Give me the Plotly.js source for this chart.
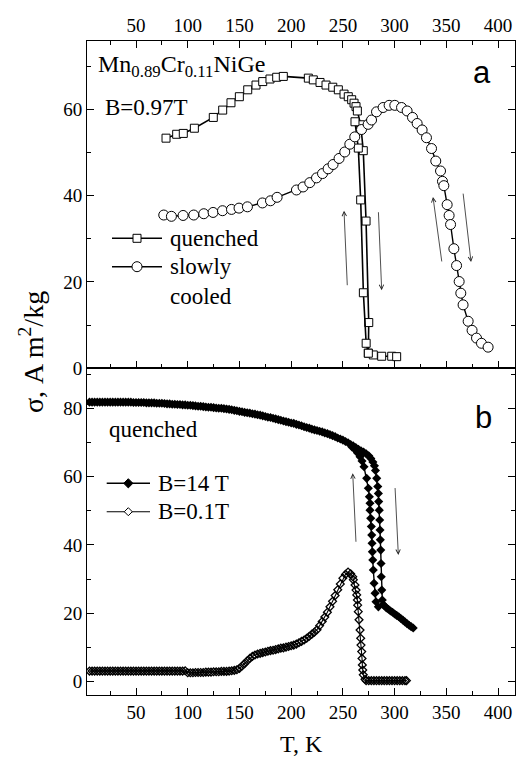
<!DOCTYPE html>
<html><head><meta charset="utf-8">
<script src="https://cdn.plot.ly/plotly-3.0.1.min.js"></script>
<style>html,body{margin:0;padding:0;background:#fff}#chart{width:516px;height:759px}</style>
</head><body><div id="chart"></div>
<script>
// ---------- Panel a: B = 0.97 T ----------
const quenchedHeatT = [79.0,89.3,95.7,106.4,124.7,133.8,141.8,149.9,158.0,166.0,172.5,179.5,186.0,192.4,216.6,221.4,227.9,233.7,240.2,245.6,251.1,255.2,258.5,260.8,262.7,264.0,267.2,269.7,272.4,275.0,274.6,279.4,287.5,297.2,302.0];
const quenchedHeatS = [53.3,54.2,54.4,55.6,58.1,59.8,61.5,62.9,64.5,65.6,66.4,67.0,67.4,67.6,67.2,66.8,66.2,65.6,65.1,64.5,63.5,62.9,62.2,61.4,60.6,59.6,56.4,50.4,34.1,10.6,3.5,3.1,2.8,2.8,2.7];
const quenchedCoolT = [274.6,272.5,269.8,267.2,264.9,261.7];
const quenchedCoolS = [3.5,5.8,17.5,39.0,51.0,57.1];

const slowT = [76.8,84.2,95.5,105.8,115.5,124.5,133.6,142.3,149.6,157.7,172.2,180.0,186.4,205.1,211.5,218.0,224.5,230.3,235.7,240.5,246.3,251.8,256.7,261.5,268.0,274.4,277.7,282.5,288.9,294.7,300.2,306.7,312.1,317.3,321.8,326.6,330.8,335.7,339.8,344.4,346.3,347.6,350.8,352.7,354.1,357.3,359.9,362.4,364.0,366.2,371.1,374.9,379.2,384.0,390.4];
const slowS = [35.5,35.2,35.4,35.5,35.8,36.1,36.5,36.8,37.1,37.4,38.3,38.8,39.6,41.3,42.0,43.0,44.1,45.1,46.2,47.2,48.6,50.1,51.9,53.6,55.3,56.5,57.5,59.4,60.4,60.9,60.9,60.4,59.6,58.1,56.7,55.2,53.4,50.9,48.0,45.7,43.3,42.3,37.9,35.4,33.3,27.7,23.8,20.1,17.4,14.7,10.9,8.8,7.0,5.8,4.9];

// ---------- Panel b: quenched ----------
const b14HeatT = [5,7.5,10,12.5,15,17.5,20,22.5,25,27.5,30,32.5,35,37.5,40,
 42.5,45,47.5,50,52.5,55,57.5,60,62.5,65,67.5,70,72.5,
 75,77.5,80,82.5,85,87.5,90,92.5,95,97.5,100,102.5,105,
 107.5,110,112.5,115,117.5,120,122.5,125,127.5,130,132.5,135,137.5,
 140,142.5,145,147.5,150,152.5,155,157.5,160,162.5,165,167.5,170,
 172.5,175,177.5,180,182.5,185,187.5,190,192.5,195,197.5,200,
 202.5,205,207.5,210,212.5,215,217.5,220,222.5,225,227.5,230,232.5,
 235,237.5,240,242.5,245,247.5,250,
 252.5,255,257.5,260,262.5,265,
 267.5,270,272.5,275,277,279,280.5,281.5,282.7,283.7,284.3,284.6,285.2,285.6,285.9,286.2,286.6,286.9,287.1,287.6,288.1,289.0,290,
 292,294,296,298,300,302,304,306,308,310,312,314,316,318];
const b14HeatS = [81.8,81.8,81.8,81.8,81.8,81.8,81.8,81.8,81.8,81.8,81.8,81.8,81.8,81.8,81.8,
 81.8,81.8,81.7,81.7,81.7,81.7,81.7,81.6,81.6,81.6,81.6,81.5,81.5,
 81.5,81.4,81.3,81.3,81.2,81.2,81.1,81.1,81.0,81.0,80.9,80.9,80.8,
 80.7,80.6,80.6,80.5,80.4,80.3,80.3,80.2,80.1,80.0,80.0,79.9,79.8,
 79.7,79.6,79.4,79.3,79.1,79.0,78.8,78.7,78.6,78.4,78.3,78.1,78.0,
 77.8,77.6,77.4,77.3,77.1,76.9,76.7,76.5,76.3,76.1,75.9,75.7,
 75.6,75.3,75.1,74.9,74.6,74.4,74.2,73.9,73.7,73.5,73.3,73.1,72.8,
 72.6,72.3,72.0,71.7,71.3,71.0,70.7,
 70.3,69.9,69.4,69.0,68.5,68.0,
 67.6,67.2,66.7,66.1,65.3,64.3,63.2,61.8,59.5,57.1,55.1,52.7,50.2,47.3,44.4,41.5,38.5,34.6,30.7,26.8,23.9,22.6,22.2,
 21.6,21.2,20.7,20.3,19.8,19.4,19.0,18.5,18.0,17.5,17.0,16.5,16.1,15.7];
const b14CoolT = [284.3,282.0,281.1,280.1,279.4,278.9,278.5,278.2,277.9,277.5,276.9,276.2,276.2,275.6,274.6,273.0,270.4,268.5,266.6,264.0,261.5,259.0];
const b14CoolS = [21.9,23.4,25.9,28.8,32.7,35.6,38.0,40.5,42.9,45.4,47.8,50.2,52.2,54.1,56.6,59.5,62.9,64.6,65.8,67.0,68.0,68.6];

const b01T = [5,7.5,10,12.5,15,17.5,20,22.5,25,27.5,30,32.5,35,37.5,40,42.5,45,47.5,50,52.5,55,57.5,60,62.5,65,67.5,70,72.5,75,77.5,80,82.5,85,87.5,90,92.5,95,97.5,
 100,102.5,105,107.5,110,112.5,115,117.5,120,122.5,125,127.5,130,132.5,135,137.5,140,142.5,145,147.5,
 150,152.5,155,157.5,160,162.5,165,167.5,170,172.5,
 175,177.5,180,182.5,185,187.5,190,192.5,195,197.5,
 200,202.5,205,207.5,210,212.5,215,217.5,220,222.5,
 225,227.5,230,232.5,235,237.5,240,242.5,245,247.5,
 250,252.5,255,257.5,
 259.5,260.1,261.7,262.7,263.4,264.0,264.3,264.9,265.6,266.6,267.2,267.5,268.2,268.5,268.8,269.2,269.7,271.4,
 272.5,275,277.5,280,282.5,285,287.5,290,292.5,295,297.5,300,302.5,305,307.5,310,311.5];
const b01S = [3.1,3.1,3.1,3.1,3.1,3.1,3.1,3.1,3.1,3.1,3.1,3.1,3.1,3.1,3.1,3.1,3.1,3.1,3.1,3.1,3.1,3.1,3.1,3.1,3.1,3.1,3.1,3.1,3.1,3.1,3.1,3.1,3.1,3.1,3.1,3.1,3.1,3.2,
 2.6,2.6,2.6,2.7,2.7,2.7,2.7,2.8,2.8,2.8,2.9,2.9,2.9,3.0,3.0,3.0,3.1,3.2,3.3,3.5,
 3.9,4.6,5.3,6.1,6.8,7.4,7.8,8.1,8.3,8.5,
 8.7,8.9,9.1,9.2,9.4,9.6,9.8,9.9,10.1,10.3,
 10.5,10.7,11.0,11.4,11.8,12.2,12.7,13.3,13.9,14.5,
 15.2,16.4,17.6,18.9,20.3,21.9,23.5,25.2,26.9,28.6,
 30.3,31.4,32.1,31.6,
 30.7,29.8,28.3,26.8,25.4,23.9,22.4,20.5,18.1,15.1,12.7,10.7,8.8,6.8,4.9,3.4,2.0,0.7,
 0.3,0.3,0.3,0.3,0.3,0.3,0.3,0.3,0.3,0.3,0.3,0.3,0.3,0.3,0.3,0.3,0.3];

// legend labels
const legendA = ['quenched', 'slowly', 'cooled'];
const legendB = ['B=14 T', 'B=0.1T'];

// arrows: [tailT, tailS, headT, headS]
const arrowsA = [[254.3,18.9,251.1,36.5],[284.3,36.5,287.5,18.1],[345.8,24.4,337.1,39.7],[366.1,40.8,373.9,24.6]];
const arrowsB = [[262.7,40.5,259.5,61.0],[300.4,57.1,303.6,37.1]];

const serif = 'Liberation Serif, Times New Roman, serif';
const sans = 'Liberation Sans, Arial, sans-serif';
const K = '#000';

const styleQ = {line:{color:K, width:1.6}, marker:{symbol:'square', size:8, color:'#fff', line:{color:K, width:1}}};
const styleS = {line:{color:K, width:1.4}, marker:{symbol:'circle', size:10, color:'#fff', line:{color:K, width:1}}};
const style14 = {line:{color:K, width:1.4}, marker:{symbol:'diamond', size:7, color:K}};
const style01 = {line:{color:K, width:1.1}, marker:{symbol:'diamond-open', size:6, color:K, line:{width:1.3}}};

const traces = [
  Object.assign({x: quenchedHeatT, y: quenchedHeatS, xaxis:'x2', yaxis:'y2', name:'quenched', mode:'lines+markers'}, styleQ),
  Object.assign({x: quenchedCoolT, y: quenchedCoolS, xaxis:'x2', yaxis:'y2', name:'quenched (cooling)', mode:'lines+markers'}, styleQ),
  Object.assign({x: slowT, y: slowS, xaxis:'x2', yaxis:'y2', name:'slowly cooled', mode:'lines+markers'}, styleS),
  Object.assign({x: b14HeatT, y: b14HeatS, xaxis:'x', yaxis:'y', name:'B=14 T', mode:'lines+markers'}, style14),
  Object.assign({x: b14CoolT, y: b14CoolS, xaxis:'x', yaxis:'y', name:'B=14 T (cooling)', mode:'lines+markers'}, style14),
  Object.assign({x: b01T, y: b01S, xaxis:'x', yaxis:'y', name:'B=0.1T', mode:'lines+markers'}, style01)
];

const tickFont = {family: serif, size: 19, color: K};
const xBase = {range:[2.6,416.4], tick0:0, dtick:50, ticks:'inside', ticklen:7, tickwidth:1, tickcolor:K,
  minor:{dtick:25, tick0:0, ticks:'inside', ticklen:4, tickwidth:1, tickcolor:K},
  showline:true, linecolor:K, linewidth:1, showgrid:false, zeroline:false, tickfont:tickFont};
const yBase = {tick0:0, dtick:20, ticks:'inside', ticklen:7, tickwidth:1, tickcolor:K,
  minor:{dtick:10, tick0:0, ticks:'inside', ticklen:4, tickwidth:1, tickcolor:K},
  showline:true, linecolor:K, linewidth:1, showgrid:false, zeroline:false, mirror:'ticks', tickfont:tickFont};

// plot area in pixels: x 87..515, y 41..695
const px = v => (v - 87) / 428;
const py = v => (695 - v) / 654;

const annotations = [
  {xref:'x2', yref:'y2', x:11.4, y:70.0, xanchor:'left', yanchor:'middle', showarrow:false,
   text:'Mn<sub>0.89</sub>Cr<sub>0.11</sub>NiGe', font:{family:serif, size:24, color:K}},
  {xref:'x2', yref:'y2', x:17.8, y:60.3, xanchor:'left', yanchor:'middle', showarrow:false,
   text:'B=0.97T', font:{family:serif, size:23, color:K}},
  {xref:'x2', yref:'y2', x:384.5, y:68.5, xanchor:'center', yanchor:'middle', showarrow:false,
   text:'a', font:{family:sans, size:31, color:K}},
  {xref:'x', yref:'y', x:21.7, y:73.9, xanchor:'left', yanchor:'middle', showarrow:false,
   text:'quenched', font:{family:serif, size:23, color:K}},
  {xref:'x', yref:'y', x:385.5, y:77.2, xanchor:'center', yanchor:'middle', showarrow:false,
   text:'b', font:{family:sans, size:31, color:K}},
  {xref:'paper', yref:'paper', x:0.5, y:py(744), xanchor:'center', yanchor:'middle', showarrow:false,
   text:'T, K', font:{family:serif, size:24, color:K}},
  {xref:'paper', yref:'paper', x:px(31), y:py(352), xanchor:'center', yanchor:'middle', showarrow:false, textangle:-90,
   text:'σ, A m<sup>2</sup>/kg', font:{family:serif, size:28, color:K}},
  // legend texts
  {xref:'paper', yref:'paper', x:px(168), y:py(238.3), xanchor:'left', yanchor:'middle', showarrow:false,
   text:legendA[0], font:{family:serif, size:23, color:K}},
  {xref:'paper', yref:'paper', x:px(168), y:py(266.7), xanchor:'left', yanchor:'middle', showarrow:false,
   text:legendA[1], font:{family:serif, size:23, color:K}},
  {xref:'paper', yref:'paper', x:px(168), y:py(296.7), xanchor:'left', yanchor:'middle', showarrow:false,
   text:legendA[2], font:{family:serif, size:23, color:K}},
  {xref:'paper', yref:'paper', x:px(156), y:py(483.3), xanchor:'left', yanchor:'middle', showarrow:false,
   text:legendB[0], font:{family:serif, size:23, color:K}},
  {xref:'paper', yref:'paper', x:px(156), y:py(511.7), xanchor:'left', yanchor:'middle', showarrow:false,
   text:legendB[1], font:{family:serif, size:23, color:K}}
];
arrowsA.forEach(a => annotations.push({xref:'x2', yref:'y2', axref:'x2', ayref:'y2', ax:a[0], ay:a[1], x:a[2], y:a[3],
  text:'', showarrow:true, arrowhead:5, arrowsize:1.1, arrowwidth:0.8, arrowcolor:'#222', standoff:0}));
arrowsB.forEach(a => annotations.push({xref:'x', yref:'y', axref:'x', ayref:'y', ax:a[0], ay:a[1], x:a[2], y:a[3],
  text:'', showarrow:true, arrowhead:5, arrowsize:1.1, arrowwidth:0.8, arrowcolor:'#222', standoff:0}));

// legend keys (line samples + symbols)
function keyLine(x0, x1, y, w) {
  return {type:'line', xref:'paper', yref:'paper', x0:px(x0), x1:px(x1), y0:py(y), y1:py(y), line:{color:K, width:w}, layer:'above'};
}
function keySym(type, cx, cy, r, fill, path) {
  const s = {type:type, xref:'paper', yref:'paper', xsizemode:'pixel', ysizemode:'pixel',
    xanchor:px(cx), yanchor:py(cy), fillcolor:fill, line:{color:K, width:1}, layer:'above'};
  if (path) { s.path = path; } else { s.x0 = -r; s.x1 = r; s.y0 = -r; s.y1 = r; }
  return s;
}
const shapes = [
  keyLine(112, 162, 238.3, 1.6), keySym('rect', 137, 238.3, 4, '#fff'),
  keyLine(112, 162, 266.7, 1.6), keySym('circle', 137, 266.7, 5, '#fff'),
  keyLine(106.7, 150, 483.3, 1.4), keySym('path', 128.3, 483.3, 0, K, 'M0,4.6 L4.6,0 L0,-4.6 L-4.6,0 Z'),
  keyLine(106.7, 150, 511.7, 1.1), keySym('path', 128.3, 511.7, 0, '#fff', 'M0,4 L4,0 L0,-4 L-4,0 Z')
];

const layout = {
  width:516, height:759, margin:{l:87, r:1, t:41, b:64, pad:0},
  paper_bgcolor:'#fff', plot_bgcolor:'#fff',
  font:{family:serif, color:K},
  xaxis: Object.assign({}, xBase, {domain:[0,1], anchor:'y', side:'bottom', mirror:true}),
  xaxis2: Object.assign({}, xBase, {domain:[0,1], anchor:'y2', side:'top', mirror:'ticks'}),
  yaxis: Object.assign({}, yBase, {domain:[0,0.4995], range:[-3.9,91.7], anchor:'x'}),
  yaxis2: Object.assign({}, yBase, {domain:[0.4995,1], range:[0,75.8], anchor:'x2'}),
  annotations: annotations,
  shapes: shapes,
  showlegend:false
};

Plotly.newPlot('chart', traces, layout, {displayModeBar:false, staticPlot:true});
</script></body></html>
